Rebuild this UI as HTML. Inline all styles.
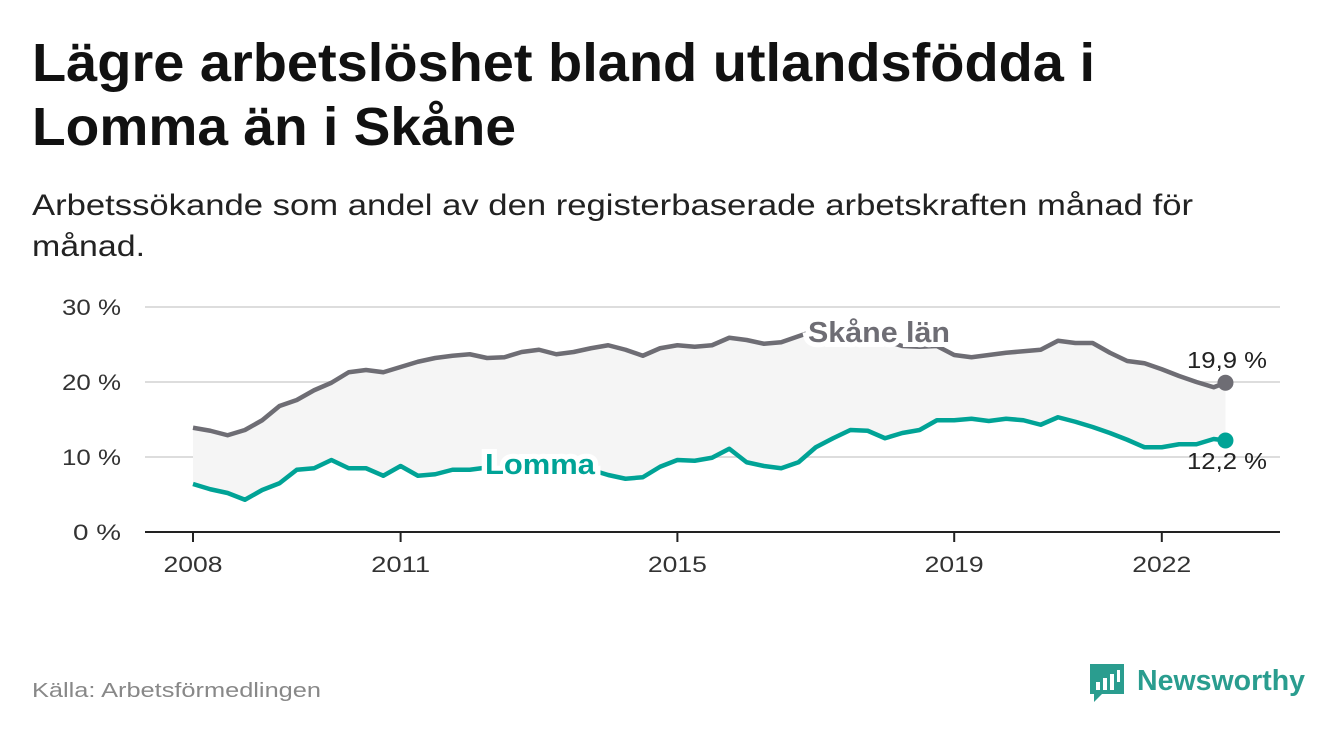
<!DOCTYPE html>
<html><head><meta charset="utf-8">
<style>
body{margin:0;background:#fff;width:1340px;height:734px;overflow:hidden;font-family:"Liberation Sans","DejaVu Sans",sans-serif;}
</style></head>
<body>
<svg width="1340" height="734" style="position:absolute;left:0;top:0">
<text x="32" y="81" font-size="54" font-weight="bold" fill="#111" textLength="1063" lengthAdjust="spacingAndGlyphs">Lägre arbetslöshet bland utlandsfödda i</text>
<text x="32" y="145" font-size="54" font-weight="bold" fill="#111" textLength="484" lengthAdjust="spacingAndGlyphs">Lomma än i Skåne</text>
<text x="32" y="215" font-size="30" fill="#222" textLength="1161" lengthAdjust="spacingAndGlyphs">Arbetssökande som andel av den registerbaserade arbetskraften månad för</text>
<text x="32" y="256" font-size="30" fill="#222" textLength="113" lengthAdjust="spacingAndGlyphs">månad.</text>
<g id="plot"></g>
<text x="32" y="697" font-size="20" fill="#888" textLength="289" lengthAdjust="spacingAndGlyphs">Källa: Arbetsförmedlingen</text>
<g>
<path d="M1090 664 h34 v30 h-22 l-8 8 v-8 h-4z" fill="#2a9d8f"/>
<rect x="1096" y="682" width="4" height="8" fill="#fff"/><rect x="1103" y="678" width="4" height="12" fill="#fff"/><rect x="1110" y="674" width="4" height="16" fill="#fff"/><rect x="1117" y="670" width="3" height="12" fill="#fff"/>
<text x="1137" y="690" font-size="29" fill="#2a9d8f" font-weight="bold" textLength="168" lengthAdjust="spacingAndGlyphs">Newsworthy</text>
</g>
</svg>
<script>
const dates=[2008,2008.25,2008.5,2008.75,2009,2009.25,2009.5,2009.75,2010,2010.25,2010.5,2010.75,2011,2011.25,2011.5,2011.75,2012,2012.25,2012.5,2012.75,2013,2013.25,2013.5,2013.75,2014,2014.25,2014.5,2014.75,2015,2015.25,2015.5,2015.75,2016,2016.25,2016.5,2016.75,2017,2017.25,2017.5,2017.75,2018,2018.25,2018.5,2018.75,2019,2019.25,2019.5,2019.75,2020,2020.25,2020.5,2020.75,2021,2021.25,2021.5,2021.75,2022,2022.25,2022.5,2022.75,2022.92];
const skane=[13.9,13.5,12.9,13.6,14.9,16.8,17.6,18.9,19.9,21.3,21.6,21.3,22,22.7,23.2,23.5,23.7,23.2,23.3,24,24.3,23.7,24,24.5,24.9,24.3,23.5,24.5,24.9,24.7,24.9,25.9,25.6,25.1,25.3,26.1,26.9,26.5,26,25.8,25.5,24.8,24.7,24.8,23.6,23.3,23.6,23.9,24.1,24.3,25.5,25.2,25.2,23.9,22.8,22.5,21.7,20.8,20,19.3,19.9];
const lomma=[6.4,5.7,5.2,4.3,5.6,6.5,8.3,8.5,9.6,8.5,8.5,7.5,8.8,7.5,7.7,8.3,8.3,8.6,8.4,8.7,8.5,8.8,8.6,8.3,7.6,7.1,7.3,8.7,9.6,9.5,9.9,11.1,9.3,8.8,8.5,9.3,11.3,12.5,13.6,13.5,12.5,13.2,13.6,14.9,14.9,15.1,14.8,15.1,14.9,14.3,15.3,14.7,14,13.2,12.3,11.3,11.3,11.7,11.7,12.4,12.2];
const yTicks=[0,10,20,30];
const xTicks=[2008,2011,2015,2019,2022];
const NS="http://www.w3.org/2000/svg";
const X=t=>193+(t-2008)*69.2;
const Y=v=>532-v*7.5;
const g=document.getElementById('plot');
function mk(tag,attrs){const e=document.createElementNS(NS,tag);for(const k in attrs)e.setAttribute(k,attrs[k]);g.appendChild(e);return e;}
yTicks.forEach(v=>{
 const l=mk('line',{x1:145,x2:1280,y1:Y(v),y2:Y(v),stroke:v===0?'#222':'#ddd','stroke-width':2});
 
 
 const t=mk('text',{x:121,y:Y(v)+8,'text-anchor':'end','font-size':22,fill:'#333',textLength:(String(v).length===1?48:59),lengthAdjust:'spacingAndGlyphs'});
 t.textContent=v+' %';
 
 
});
xTicks.forEach(v=>{
 const l=mk('line',{x1:X(v),x2:X(v),y1:532,y2:542,stroke:'#222','stroke-width':2});
 
 
 const t=mk('text',{x:X(v),y:572,'text-anchor':'middle','font-size':22,fill:'#333',textLength:59,lengthAdjust:'spacingAndGlyphs'});
 t.textContent=v;
 
 
});
let area='';dates.forEach((d,i)=>area+=(i?'L':'M')+X(d)+' '+Y(skane[i]));
for(let i=dates.length-1;i>=0;i--)area+='L'+X(dates[i])+' '+Y(lomma[i]);
const a=mk('path',{d:area+'Z',fill:'#f5f5f5'});


function line(arr,col,name){let d='';dates.forEach((t,i)=>d+=(i?'L':'M')+X(t)+' '+Y(arr[i]));
 const p=mk('path',{d:d,fill:'none',stroke:col,'stroke-width':4.5,'stroke-linejoin':'round'});
 
 
 const n=arr.length-1;
 const c=mk('circle',{cx:X(dates[n]),cy:Y(arr[n]),r:8,fill:col});
 
 
}
line(skane,'#6e6d74','skane');
line(lomma,'#00a396','lomma');
function lab(txt,x,y,col,size,bold,name,len,anchor){
 const t=mk('text',{x:x,y:y,'font-size':size,fill:col,'font-weight':bold?'bold':'normal',stroke:'#fff','stroke-width':bold?10:0,'paint-order':'stroke','text-anchor':anchor||'start',textLength:len,lengthAdjust:'spacingAndGlyphs'});
 t.textContent=txt;
 
 
}
lab('Skåne län',808,342,'#6e6d74',29,true,'skane-label',142);
lab('Lomma',485,474,'#00a396',29,true,'lomma-label',110);
lab('19,9 %',1267,368,'#222',23,false,'skane-end-value',80,'end');
lab('12,2 %',1267,469,'#222',23,false,'lomma-end-value',80,'end');
</script>
</body></html>
